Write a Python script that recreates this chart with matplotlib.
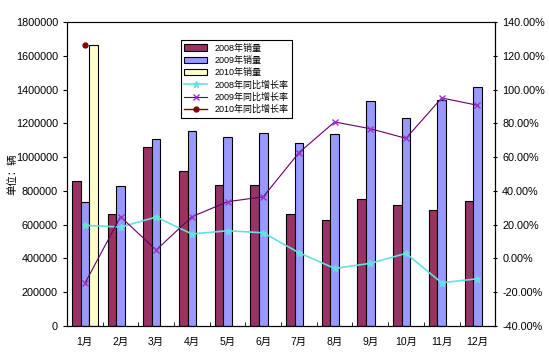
import matplotlib.pyplot as plt
import numpy as np

plt.rcParams['font.family'] = ['Liberation Sans', 'Noto Sans CJK SC', 'DejaVu Sans']

months = ['1月', '2月', '3月', '4月', '5月', '6月', '7月', '8月', '9月', '10月', '11月', '12月']
sales_2008 = [857000, 663000, 1060000, 920000, 833000, 833000, 663000, 628000, 750000, 715000, 687000, 738000]
sales_2009 = [736000, 829000, 1107000, 1155000, 1119000, 1143000, 1082000, 1137000, 1330000, 1231000, 1338000, 1413000]
sales_2010 = [1664000]
growth_2008 = [19.6, 18.6, 24.5, 14.5, 16.4, 15.2, 3.4, -5.9, -2.9, 3.0, -14.4, -12.0]
growth_2009 = [-14.8, 24.7, 5.0, 24.7, 33.6, 36.5, 62.6, 80.8, 76.8, 71.1, 95.0, 90.7]
growth_2010 = [126.4]

X = np.arange(len(months))
w = 0.24

fig = plt.figure(figsize=(5.49, 3.54), dpi=100)
ax = fig.add_axes([0.122, 0.079, 0.780, 0.859])
b1 = ax.bar(X - w, sales_2008, width=w, color='#993366', edgecolor='black', linewidth=0.8, label='2008年销量')
b2 = ax.bar(X, sales_2009, width=w, color='#9999FF', edgecolor='black', linewidth=0.8, label='2009年销量')
b3 = ax.bar(X[:1] + w, sales_2010, width=w, color='#FFFFCC', edgecolor='black', linewidth=0.8, label='2010年销量')
ax.set_xlim(-0.5, 11.5)
ax.set_ylim(0, 1800000)
ax.set_yticks(np.arange(0, 1800001, 200000))
ax.set_yticklabels([str(v) for v in range(0, 1800001, 200000)], fontsize=7.8)
ax.set_xticks(X)
ax.set_xticklabels(months, fontsize=7.5)
ax.tick_params(axis='x', length=0, pad=8)
ax.set_xticks(np.arange(0.5, 11, 1), minor=True)
ax.tick_params(axis='x', which='minor', direction='in', length=3)
ax.tick_params(axis='y', length=3)
ax.set_ylabel('单位：辆', fontsize=7.5)
ax.yaxis.set_label_coords(-0.115, 0.5)
ax.spines['top'].set_color('#888888')

ax2 = ax.twinx()
l1, = ax2.plot(X, growth_2008, color='#66E0E0', marker='*', markersize=5, linewidth=1.2, label='2008年同比增长率')
l2, = ax2.plot(X, growth_2009, color='#660066', marker='x', markersize=4, markeredgecolor='#9933CC', linewidth=0.8, label='2009年同比增长率')
l3, = ax2.plot(X[:1], growth_2010, color='#800000', marker='o', markersize=3.5, linewidth=1, label='2010年同比增长率')
ax2.set_ylim(-40, 140)
ax2.set_yticks(np.arange(-40, 141, 20))
ax2.set_yticklabels([f"{v:.2f}%" for v in range(-40, 141, 20)], fontsize=7.8)
ax2.tick_params(axis='y', length=3, direction='inout')

handles = [b1, b2, b3, l1, l2, l3]
leg = ax2.legend(handles, [h.get_label() for h in handles], loc='upper left', bbox_to_anchor=(0.255, 0.955),
                 fontsize=6.5, frameon=True, fancybox=False, edgecolor='black', framealpha=1,
                 handlelength=2.5, labelspacing=0.35, borderpad=0.4)
leg.get_frame().set_linewidth(0.8)

fig.savefig('out.png', dpi=100)
